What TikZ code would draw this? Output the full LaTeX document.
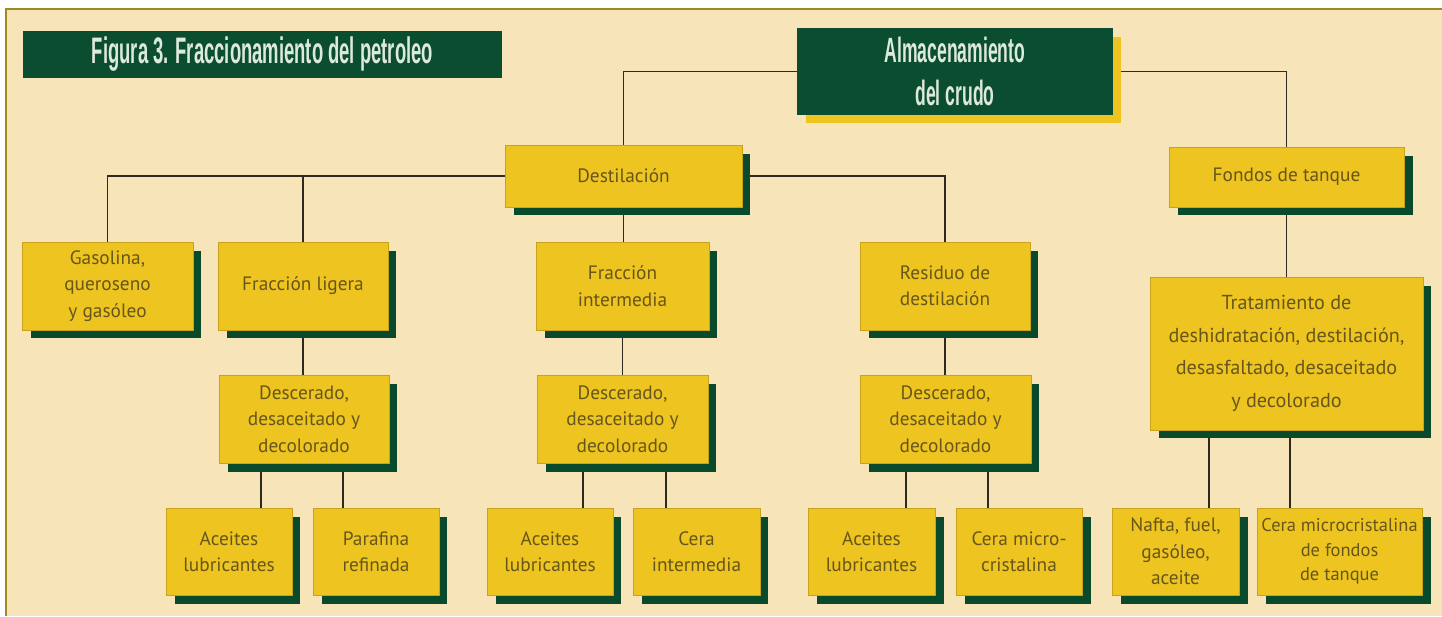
\documentclass[tikz,border=0pt]{standalone}
\usepackage{fontspec}
\setmainfont{PT Sans}
\newfontfamily\condfont[FakeStretch=0.5]{Liberation Sans}
\usetikzlibrary{shadows}
\definecolor{paper}{HTML}{F8E4B9}
\definecolor{frameol}{HTML}{9A8C1E}
\definecolor{boxyellow}{HTML}{EEC420}
\definecolor{boxedge}{HTML}{C8A21A}
\definecolor{shgreen}{HTML}{0A4A2C}
\definecolor{darkgreen}{HTML}{0B4D31}
\definecolor{boxtext}{HTML}{66561A}
\definecolor{titletext}{HTML}{DCE9DC}
\definecolor{wirecol}{HTML}{2E2A1E}
\pgfdeclarelayer{background}
\pgfsetlayers{background,main}

\begin{document}
\begin{tikzpicture}[x=0.02cm, y=-0.02cm,
	procbox/.style={shape=rectangle, fill=boxyellow, draw=boxedge, line width=0.4pt, text=boxtext, align=center, inner sep=1pt, font=\fontsize{11}{15}\selectfont, drop shadow={shadow xshift=0.17cm, shadow yshift=-0.17cm, fill=shgreen, opacity=1}},
	headbox/.style={shape=rectangle, fill=darkgreen, text=titletext, align=center, inner sep=0pt},
	wire/.style={draw=wirecol, line width=1pt}]
	\useasboundingbox (0, 0) rectangle (1442, 616);
	\begin{pgfonlayer}{background}
		\fill[white] (0, 0) rectangle (1442, 616);
		\fill[paper] (6, 9) rectangle (1442, 616);
		\draw[frameol, line width=1pt] (6, 616) -- (6, 9) -- (1442, 9);
	\end{pgfonlayer}
	% Boxes:
	\node[headbox, minimum width=9.58cm, minimum height=0.94cm, font=\condfont\bfseries\fontsize{21}{24}\selectfont] (title) at (262.5, 54.5) {Figura 3. Fraccionamiento del petroleo};
	\node[headbox, minimum width=6.32cm, minimum height=1.74cm, font=\condfont\bfseries\fontsize{20}{24}\selectfont, drop shadow={shadow xshift=0.17cm, shadow yshift=-0.17cm, fill=boxyellow, opacity=1}] (alm) at (955, 71.5) {Almacenamiento\\del crudo};
	\node[procbox, minimum width=4.74cm, minimum height=1.24cm] (dest) at (623.5, 176) {Destilación};
	\node[procbox, minimum width=4.70cm, minimum height=1.20cm] (fondos) at (1286.5, 177) {Fondos de tanque};
	\node[procbox, minimum width=3.42cm, minimum height=1.76cm] (gas) at (107.5, 286) {Gasolina,\\queroseno\\y gasóleo};
	\node[procbox, minimum width=3.40cm, minimum height=1.76cm] (flig) at (303, 286) {Fracción ligera};
	\node[procbox, minimum width=3.46cm, minimum height=1.76cm] (fint) at (622.5, 286) {Fracción\\intermedia};
	\node[procbox, minimum width=3.40cm, minimum height=1.76cm] (resid) at (945, 286) {Residuo de\\destilación};
	\node[procbox, minimum width=5.46cm, minimum height=3.06cm, font=\fontsize{11.5}{18.5}\selectfont] (trat) at (1286.5, 353.5) {Tratamiento de\\deshidratación, destilación,\\desasfaltado, desaceitado\\y decolorado};
	\node[procbox, minimum width=3.40cm, minimum height=1.76cm] (desc1) at (304, 419) {Descerado,\\desaceitado y\\decolorado};
	\node[procbox, minimum width=3.42cm, minimum height=1.76cm] (desc2) at (622.5, 419) {Descerado,\\desaceitado y\\decolorado};
	\node[procbox, minimum width=3.42cm, minimum height=1.76cm] (desc3) at (945.5, 419) {Descerado,\\desaceitado y\\decolorado};
	\node[procbox, minimum width=2.52cm, minimum height=1.74cm] (ac1) at (229, 551.5) {Aceites\\lubricantes};
	\node[procbox, minimum width=2.52cm, minimum height=1.74cm] (par) at (376, 551.5) {Parafina\\refinada};
	\node[procbox, minimum width=2.52cm, minimum height=1.74cm] (ac2) at (550, 551.5) {Aceites\\lubricantes};
	\node[procbox, minimum width=2.54cm, minimum height=1.74cm] (cint) at (696.5, 551.5) {Cera\\intermedia};
	\node[procbox, minimum width=2.54cm, minimum height=1.74cm] (ac3) at (871.5, 551.5) {Aceites\\lubricantes};
	\node[procbox, minimum width=2.52cm, minimum height=1.74cm] (cmic) at (1019, 551.5) {Cera micro-\\cristalina};
	\node[procbox, minimum width=2.54cm, minimum height=1.74cm] (naf) at (1175.5, 551.5) {Nafta, fuel,\\gasóleo,\\aceite};
	\node[procbox, minimum width=3.30cm, minimum height=1.74cm, font=\fontsize{10.5}{14}\selectfont] (cfon) at (1339.5, 551.5) {Cera microcristalina\\de fondos\\de tanque};
	% Connectors:
	\coordinate (d1l) at ([xshift=-0.86cm]desc1.south);
	\coordinate (d1r) at ([xshift=0.78cm]desc1.south);
	\coordinate (d2l) at ([xshift=-0.79cm]desc2.south);
	\coordinate (d2r) at ([xshift=0.87cm]desc2.south);
	\coordinate (d3l) at ([xshift=-0.79cm]desc3.south);
	\coordinate (d3r) at ([xshift=0.85cm]desc3.south);
	\coordinate (trl) at ([xshift=-1.55cm]trat.south);
	\coordinate (trr) at ([xshift=0.07cm]trat.south);
	\begin{pgfonlayer}{background}
		\draw[wire] (alm.west) -| (dest.north);
		\draw[wire] (alm.east) -| (fondos.north);
		\draw[wire] (dest.west) -| (gas.north);
		\draw[wire] (flig.north) -- (flig.north |- dest.west);
		\draw[wire] (dest.east) -| (resid.north);
		\draw[wire] (dest.south) -- (dest.south |- fint.north);
		\draw[wire] (fondos.south) -- (fondos.south |- trat.north);
		\draw[wire] (flig.south) -- (flig.south |- desc1.north);
		\draw[wire] (fint.south) -- (fint.south |- desc2.north);
		\draw[wire] (resid.south) -- (resid.south |- desc3.north);
		\draw[wire] (d1l) -- (d1l |- ac1.north);
		\draw[wire] (d1r) -- (d1r |- par.north);
		\draw[wire] (d2l) -- (d2l |- ac2.north);
		\draw[wire] (d2r) -- (d2r |- cint.north);
		\draw[wire] (d3l) -- (d3l |- ac3.north);
		\draw[wire] (d3r) -- (d3r |- cmic.north);
		\draw[wire] (trl) -- (trl |- naf.north);
		\draw[wire] (trr) -- (trr |- cfon.north);
	\end{pgfonlayer}
\end{tikzpicture}
\end{document}
